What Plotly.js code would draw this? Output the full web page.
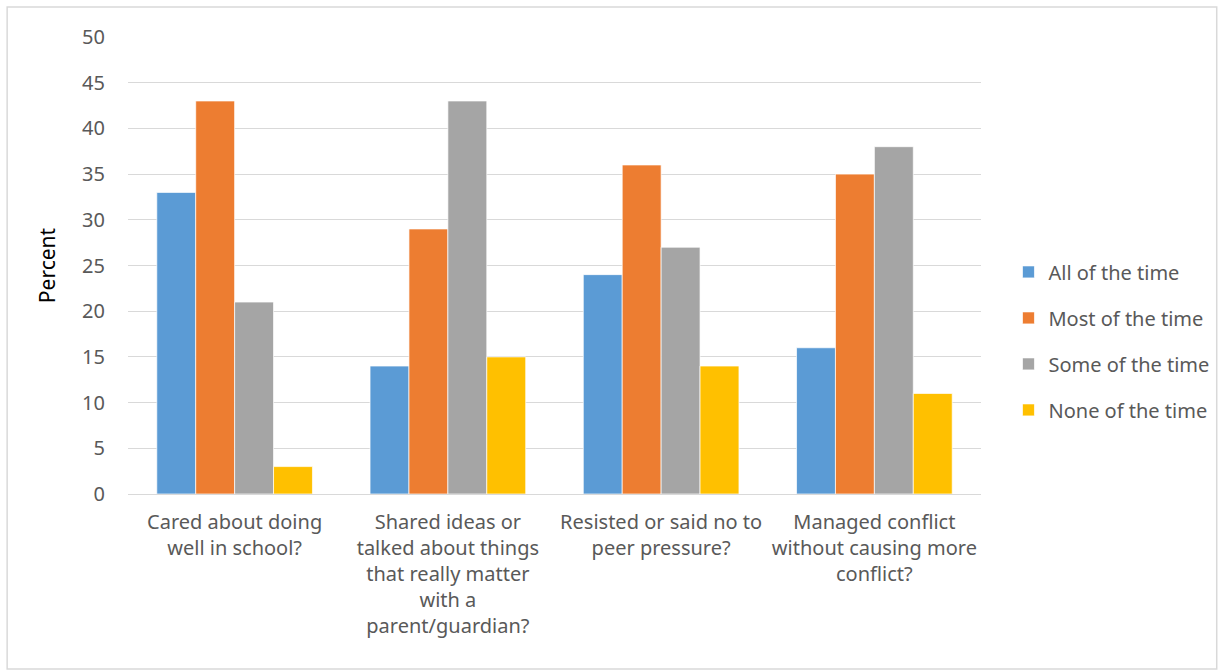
<!DOCTYPE html>
<html><head><meta charset="utf-8">
<script src="https://cdn.plot.ly/plotly-3.0.1.min.js"></script>
<style>body{margin:0;padding:0;background:#fff}#chart{width:1225px;height:670px}</style>
</head><body><div id="chart"></div>
<script>
const categories = [
  "Cared about doing<br>well in school?",
  "Shared ideas or<br>talked about things<br>that really matter<br>with a<br>parent/guardian?",
  "Resisted or said no to<br>peer pressure?",
  "Managed conflict<br>without causing more<br>conflict?"
];
const seriesNames = ["All of the time", "Most of the time", "Some of the time", "None of the time"];
const allOfTheTime = [33, 14, 24, 16];
const mostOfTheTime = [43, 29, 36, 35];
const someOfTheTime = [21, 43, 27, 38];
const noneOfTheTime = [3, 15, 14, 11];
const colors = ["#5b9bd5", "#ed7d31", "#a5a5a5", "#ffc000"];
const values = [allOfTheTime, mostOfTheTime, someOfTheTime, noneOfTheTime];

const font = "Noto Sans, Open Sans, sans-serif";
const traces = values.map((v, i) => ({
  type: "bar", x: categories, y: v, name: seriesNames[i],
  legendgroup: "g" + i,
  marker: {color: colors[i], line: {color: "#ffffff", width: 0.7}},
  hoverinfo: "y"
}));

const L = 128, R = 982, T = 37, B = 494, W = 1225, H = 670;
const layout = {
  width: W, height: H,
  margin: {l: L, r: W - R, t: T, b: H - B, pad: 0},
  paper_bgcolor: "#ffffff", plot_bgcolor: "#ffffff",
  font: {family: font, color: "#595959", size: 20},
  barmode: "group", bargap: 0.27, bargroupgap: 0,
  showlegend: true,
  legend: {x: 1.031, xanchor: "left", y: 0.335, yanchor: "middle",
           font: {size: 20, color: "#595959"}, tracegroupgap: 17,
           itemwidth: 30, bgcolor: "rgba(0,0,0,0)"},
  xaxis: {type: "category", showgrid: false, showline: true, linecolor: "#d9d9d9", linewidth: 1,
          ticks: "", ticklabelstandoff: 10, tickfont: {size: 20, color: "#595959"}, automargin: false},
  yaxis: {range: [0, 50], dtick: 5, showgrid: true, gridcolor: "#d9d9d9", gridwidth: 1,
          zeroline: false, showline: false, ticks: "", ticklabelstandoff: 22,
          tickfont: {size: 20, color: "#595959"},
          title: {text: "Percent", font: {size: 21, color: "#000000"}, standoff: 20},
          automargin: false},
  shapes: [{type: "rect", xref: "paper", yref: "paper",
            x0: (7 - L) / (R - L), x1: (1218 - L) / (R - L),
            y0: (B - 669) / (B - T), y1: (B - 7) / (B - T),
            line: {color: "#d9d9d9", width: 1.5}, fillcolor: "rgba(0,0,0,0)", layer: "below"}]
};
Plotly.newPlot("chart", traces, layout, {displayModeBar: false, staticPlot: true});
</script></body></html>
